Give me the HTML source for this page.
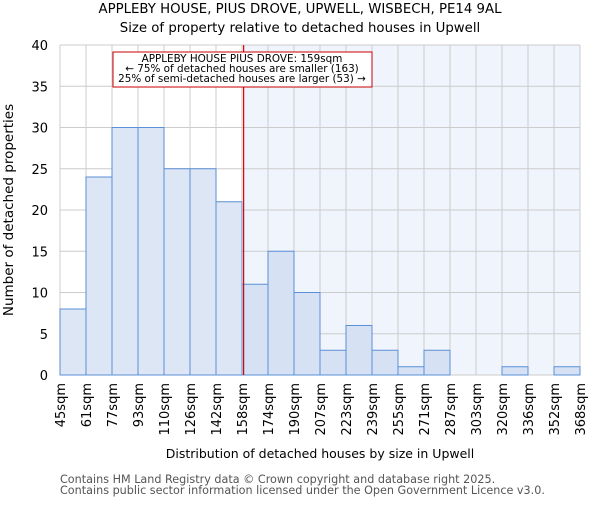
<!DOCTYPE html>
<html><head><meta charset="utf-8"><style>
body{margin:0;background:#fff;}
svg text{font-family:"DejaVu Sans","Liberation Sans",sans-serif;}
</style></head><body>
<svg id="chart" width="600" height="500">
<text x="300" y="13" text-anchor="middle" font-size="13.3">APPLEBY HOUSE, PIUS DROVE, UPWELL, WISBECH, PE14 9AL</text>
<text x="300" y="32" text-anchor="middle" font-size="13.3">Size of property relative to detached houses in Upwell</text>
<g id="plot"></g>
<text x="320" y="458" text-anchor="middle" font-size="12.5">Distribution of detached houses by size in Upwell</text>
<text transform="translate(13,210) rotate(-90)" text-anchor="middle" font-size="13.5">Number of detached properties</text>
<text x="60" y="483" font-size="11.2" fill="#555">Contains HM Land Registry data © Crown copyright and database right 2025.</text>
<text x="60" y="494" font-size="11.2" fill="#555">Contains public sector information licensed under the Open Government Licence v3.0.</text>
</svg>
<script>
const categories=["45sqm","61sqm","77sqm","93sqm","110sqm","126sqm","142sqm","158sqm","174sqm","190sqm","207sqm","223sqm","239sqm","255sqm","271sqm","287sqm","303sqm","320sqm","336sqm","352sqm","368sqm"];
const counts=[8,24,30,30,25,25,21,11,15,10,3,6,3,1,3,0,0,1,0,1];
const yTicks=[0,5,10,15,20,25,30,35,40];
const markerIndex=7+1/16;
const NS="http://www.w3.org/2000/svg";
const g=document.getElementById("plot");
const X0=60,X1=580,Y0=375,Y1=45;
const bw=(X1-X0)/counts.length;
const xs=i=>X0+i*bw;
const ys=v=>Y0-(v/40)*(Y0-Y1);
function mk(t,a){const e=document.createElementNS(NS,t);for(const k in a)e.setAttribute(k,a[k]);g.appendChild(e);return e;}
const mx=xs(markerIndex);
let e=mk("rect",{x:mx,y:Y1,width:X1-mx,height:Y0-Y1,fill:"#f0f4fc"});


yTicks.forEach(v=>{
 let l=mk("line",{x1:X0,x2:X1,y1:ys(v),y2:ys(v),stroke:"#ccc","stroke-width":1});
 
 
 let t=mk("text",{x:X0-12,y:ys(v)+5,"text-anchor":"end","font-size":13});
 t.textContent=v;
 
 
});
categories.forEach((c,i)=>{
 let l=mk("line",{x1:xs(i),x2:xs(i),y1:Y1,y2:Y0,stroke:"#ccc","stroke-width":1});
 
 
 let t=mk("text",{transform:`translate(${xs(i)+5},${Y0+8}) rotate(-90)`,"text-anchor":"end","font-size":13});
 t.textContent=c;
 
 
});
counts.forEach((v,i)=>{
 let r=mk("rect",{x:xs(i),y:ys(v),width:bw,height:Y0-ys(v),fill:i>=7?"#d6e2f4":"#dde6f4",stroke:"#5b8fd6","stroke-width":1});
 
 
});
e=mk("line",{x1:mx,x2:mx,y1:Y1,y2:Y0,stroke:"#d00","stroke-width":1.2});


e=mk("rect",{x:113,y:52,width:259,height:35,fill:"#fff",stroke:"#c00","stroke-width":1});


["APPLEBY HOUSE PIUS DROVE: 159sqm","← 75% of detached houses are smaller (163)","25% of semi-detached houses are larger (53) →"].forEach((s,k)=>{
 let t=mk("text",{x:242,y:62+k*10,"text-anchor":"middle","font-size":10.4});
 t.textContent=s;
 
 
});
</script>
</body></html>
